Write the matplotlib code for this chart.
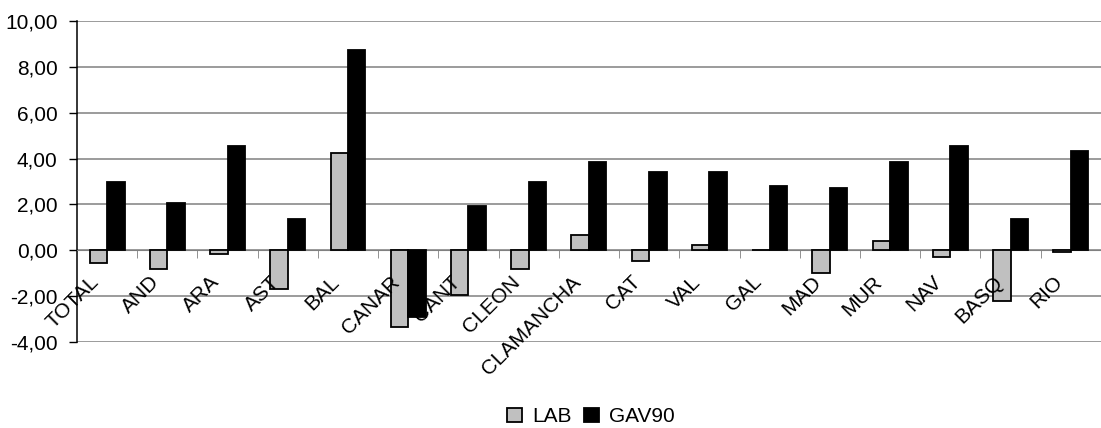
import numpy as np
import matplotlib.pyplot as plt
from matplotlib.transforms import ScaledTranslation

plt.rcParams['font.family'] = ['Liberation Sans', 'DejaVu Sans']

regions = ['TOTAL', 'AND', 'ARA', 'AST', 'BAL', 'CANAR', 'CANT', 'CLEON',
           'CLAMANCHA', 'CAT', 'VAL', 'GAL', 'MAD', 'MUR', 'NAV', 'BASQ', 'RIO']
lab = [-0.54, -0.81, -0.18, -1.69, 4.25, -3.36, -1.93, -0.80,
       0.67, -0.47, 0.23, 0.0, -1.00, 0.42, -0.31, -2.21, -0.08]
gav90 = [2.96, 2.08, 4.54, 1.38, 8.72, -2.91, 1.91, 2.96,
         3.83, 3.41, 3.41, 2.79, 2.71, 3.83, 4.54, 1.38, 4.35]

fig = plt.figure(figsize=(11.01, 4.28), dpi=100)
ax = fig.add_axes([0.0699, 0.201, 0.93, 0.750])

x = np.arange(len(regions))
w = 0.29
ax.bar(x - w / 2, lab, w, color='#c0c0c0', edgecolor='black', linewidth=1.3,
       label='LAB', zorder=3)
ax.bar(x + w / 2, gav90, w, color='black', edgecolor='black', linewidth=1.3,
       label='GAV90', zorder=3)

ax.set_ylim(-4, 10)
ax.set_xlim(-0.5, len(regions) - 0.5)
ax.set_yticks(np.arange(-4, 11, 2))
ax.set_yticklabels([f'{v:.2f}'.replace('.', ',') for v in np.arange(-4, 11, 2)])
ax.yaxis.grid(True, color='#808080', linewidth=1.1, zorder=0)
ax.tick_params(axis='y', direction='out', length=6, width=1, labelsize=15, pad=8)

# category axis sits on the zero line, tick marks between categories
ax.spines['bottom'].set_position(('data', 0))
ax.spines['bottom'].set_color('#808080')
ax.spines['right'].set_visible(False)
ax.spines['top'].set_visible(False)
ax.spines['left'].set_linewidth(1.1)
ax.set_xticks(x)
ax.set_xticklabels(regions, rotation=45, ha='right', va='top',
                   rotation_mode='anchor', fontsize=15)
ax.set_xticks(np.arange(0.5, len(regions) - 0.5, 1), minor=True)
ax.tick_params(axis='x', which='major', length=0, pad=0)
ax.tick_params(axis='x', which='minor', direction='out', length=6,
               color='#808080')
ax.xaxis.set_zorder(4)  # category names over the bars
shift = ScaledTranslation(-0.18, -0.22, fig.dpi_scale_trans)
for t in ax.get_xticklabels():
    t.set_transform(t.get_transform() + shift)

fig.legend(loc='center', bbox_to_anchor=(0.537, 0.026), ncol=2, frameon=False,
           fontsize=15, handlelength=0.7, handleheight=0.7, handletextpad=0.5,
           columnspacing=0.6)

fig.savefig('out.png', dpi=100)
